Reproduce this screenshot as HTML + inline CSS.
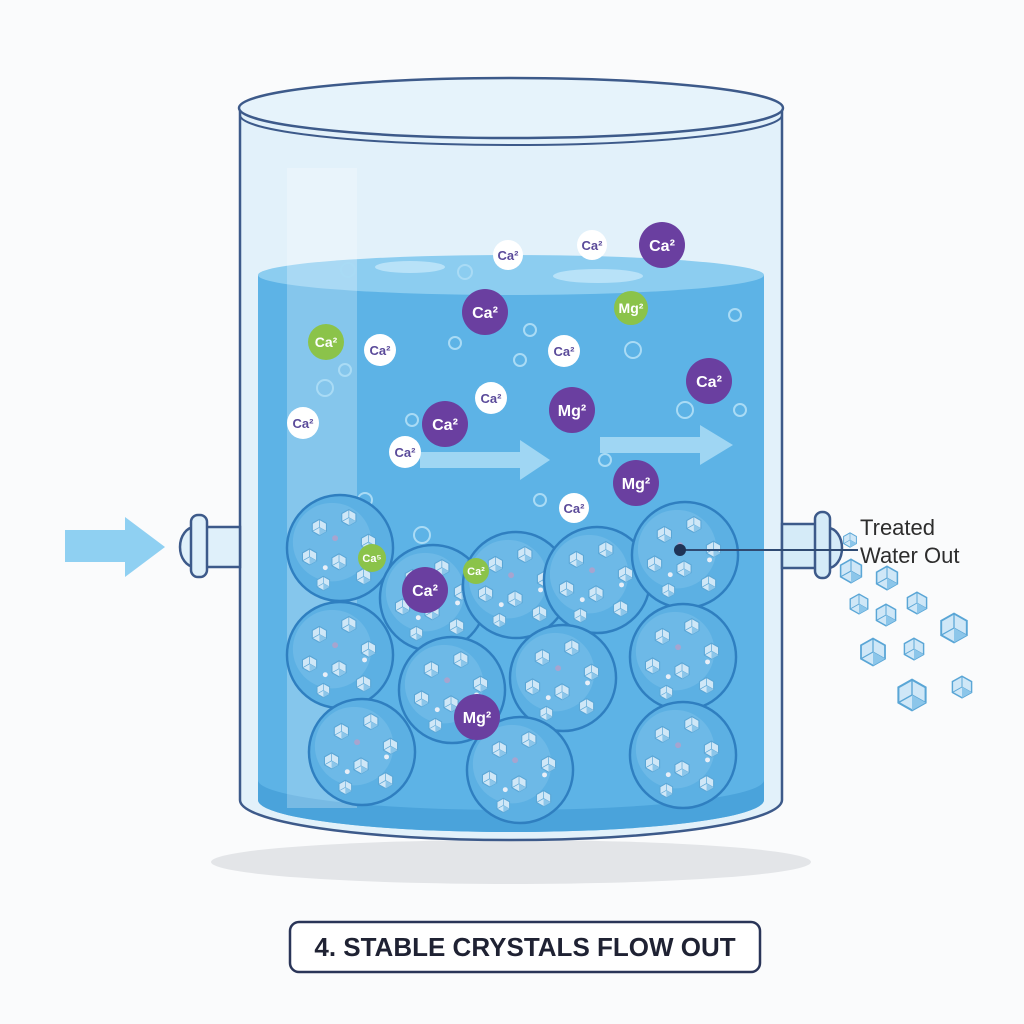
<!DOCTYPE html>
<html><head><meta charset="utf-8"><style>
html,body{margin:0;padding:0;background:#fafbfc;}
svg{display:block}
text{font-family:"Liberation Sans",sans-serif;font-weight:bold}
</style></head><body>
<svg width="1024" height="1024" viewBox="0 0 1024 1024">
<defs>
<symbol id="hex" viewBox="-10 -10 20 20"><polygon points="0,-9 8,-4.5 8,4.5 0,9 -8,4.5 -8,-4.5" fill="#cfe7f7" stroke="#5aa6d6" stroke-width="1.2"/><path d="M0,-9L0,0L8,4.5M0,0L-8,4.5" stroke="#5aa6d6" stroke-width="0.8" fill="none"/><polygon points="0,0 8,4.5 0,9" fill="#8cc6ea"/></symbol>
<symbol id="bead" viewBox="-56 -56 112 112"><circle r="54" fill="#5cb0e3" stroke="#2f7fc0" stroke-width="2.5"/><circle r="40" cx="-8" cy="-6" fill="#78c0ea" opacity="0.6"/>
<use href="#hex" x="-30" y="-30" width="18" height="18"/><use href="#hex" x="0" y="-40" width="18" height="18"/><use href="#hex" x="20" y="-15" width="18" height="18"/><use href="#hex" x="-40" y="0" width="18" height="18"/><use href="#hex" x="-10" y="5" width="18" height="18"/><use href="#hex" x="15" y="20" width="18" height="18"/><use href="#hex" x="-25" y="28" width="16" height="16"/>
<circle cx="-5" cy="-10" r="3" fill="#a7a4cf"/><circle cx="25" cy="5" r="2.5" fill="#e8eef7"/><circle cx="-15" cy="20" r="2.5" fill="#e8eef7"/></symbol>
</defs>
<ellipse cx="511" cy="862" rx="300" ry="22" fill="#e3e5e8"/>
<!-- tank glass -->
<path d="M240,108 L240,800 A271,40 0 0 0 782,800 L782,108 Z" fill="#e2f1fa" stroke="#3d5a8a" stroke-width="2.5"/>
<!-- water -->
<path d="M258,275 L258,800 A253,32 0 0 0 764,800 L764,275 Z" fill="#5db3e6"/>
<ellipse cx="511" cy="275" rx="253" ry="20" fill="#8ccdf0"/>
<path d="M258,780 L258,800 A253,32 0 0 0 764,800 L764,780 A253,30 0 0 1 258,780Z" fill="#4aa3db"/>
<rect x="287" y="168" width="70" height="640" fill="#ffffff" opacity="0.25"/>
<ellipse cx="511" cy="108" rx="272" ry="30" fill="#e6f3fb" stroke="#3d5a8a" stroke-width="2.5"/>
<path d="M240,115 A271,30 0 0 0 782,115" fill="none" stroke="#3d5a8a" stroke-width="2"/>
<!-- bubbles -->
<g fill="none" stroke="#a9dbf5" stroke-width="2">
<circle cx="348" cy="270" r="7"/><circle cx="465" cy="272" r="7"/><circle cx="325" cy="388" r="8"/><circle cx="345" cy="370" r="6"/><circle cx="455" cy="343" r="6"/><circle cx="633" cy="350" r="8"/><circle cx="530" cy="330" r="6"/><circle cx="685" cy="410" r="8"/><circle cx="740" cy="410" r="6"/><circle cx="412" cy="420" r="6"/><circle cx="422" cy="535" r="8"/><circle cx="540" cy="500" r="6"/><circle cx="605" cy="460" r="6"/><circle cx="735" cy="315" r="6"/><circle cx="365" cy="500" r="7"/><circle cx="520" cy="360" r="6"/>
</g>
<ellipse cx="410" cy="267" rx="35" ry="6" fill="#b8e2f8"/><ellipse cx="598" cy="276" rx="45" ry="7" fill="#b8e2f8"/>
<!-- flow arrows -->
<polygon points="420,452 520,452 520,440 550,460 520,480 520,468 420,468" fill="#9fd6f3"/>
<polygon points="600,437 700,437 700,425 733,445 700,465 700,453 600,453" fill="#9fd6f3"/>
<!-- beads -->
<use href="#bead" x="285" y="493" width="110" height="110"/>
<use href="#bead" x="378" y="543" width="110" height="110"/>
<use href="#bead" x="461" y="530" width="110" height="110"/>
<use href="#bead" x="542" y="525" width="110" height="110"/>
<use href="#bead" x="630" y="500" width="110" height="110"/>
<use href="#bead" x="285" y="600" width="110" height="110"/>
<use href="#bead" x="397" y="635" width="110" height="110"/>
<use href="#bead" x="508" y="623" width="110" height="110"/>
<use href="#bead" x="628" y="602" width="110" height="110"/>
<use href="#bead" x="307" y="697" width="110" height="110"/>
<use href="#bead" x="465" y="715" width="110" height="110"/>
<use href="#bead" x="628" y="700" width="110" height="110"/>
<!-- ions -->
<g font-size="16" text-anchor="middle">
<g fill="#6a3fa0"><circle cx="662" cy="245" r="23"/><circle cx="485" cy="312" r="23"/><circle cx="709" cy="381" r="23"/><circle cx="445" cy="424" r="23"/><circle cx="572" cy="410" r="23"/><circle cx="636" cy="483" r="23"/><circle cx="425" cy="590" r="23"/><circle cx="477" cy="717" r="23"/></g>
<g fill="#fff"><text x="662" y="251">Ca²</text><text x="485" y="318">Ca²</text><text x="709" y="387">Ca²</text><text x="445" y="430">Ca²</text><text x="572" y="416">Mg²</text><text x="636" y="489">Mg²</text><text x="425" y="596">Ca²</text><text x="477" y="723">Mg²</text></g>
<g fill="#8bc34a"><circle cx="326" cy="342" r="18"/><circle cx="631" cy="308" r="17"/><circle cx="372" cy="558" r="14"/><circle cx="476" cy="571" r="13"/></g>
<g fill="#fff" font-size="14"><text x="326" y="347">Ca²</text><text x="631" y="313">Mg²</text><text x="372" y="562" font-size="11">Ca⁵</text><text x="476" y="575" font-size="11">Ca²</text></g>
<g fill="#fff"><circle cx="508" cy="255" r="15"/><circle cx="592" cy="245" r="15"/><circle cx="380" cy="350" r="16"/><circle cx="564" cy="351" r="16"/><circle cx="491" cy="398" r="16"/><circle cx="303" cy="423" r="16"/><circle cx="405" cy="452" r="16"/><circle cx="574" cy="508" r="15"/></g>
<g fill="#5a4a9a" font-size="13"><text x="508" y="260">Ca²</text><text x="592" y="250">Ca²</text><text x="380" y="355">Ca²</text><text x="564" y="356">Ca²</text><text x="491" y="403">Ca²</text><text x="303" y="428">Ca²</text><text x="405" y="457">Ca²</text><text x="574" y="513">Ca²</text></g>
</g>
<!-- inlet -->
<polygon points="65,530 125,530 125,517 165,547 125,577 125,562 65,562" fill="#8fd0f2"/>
<path d="M195,527 A15,20 0 0 0 195,567" fill="#dff0fa" stroke="#3d5a8a" stroke-width="2.5"/>
<rect x="200" y="527" width="40" height="40" fill="#dff0fa" stroke="#3d5a8a" stroke-width="2.5"/>
<rect x="191" y="515" width="16" height="62" rx="7" fill="#dff0fa" stroke="#3d5a8a" stroke-width="2.5"/>
<!-- outlet -->
<rect x="782" y="524" width="38" height="44" fill="#d5ebf8" stroke="#3d5a8a" stroke-width="2.5"/>
<path d="M828,528 A14,20 0 0 1 828,568" fill="#d5ebf8" stroke="#3d5a8a" stroke-width="2.5"/>
<rect x="815" y="512" width="15" height="66" rx="7" fill="#d5ebf8" stroke="#3d5a8a" stroke-width="2.5"/>
<line x1="680" y1="550" x2="858" y2="550" stroke="#2f4a72" stroke-width="2"/>
<circle cx="680" cy="550" r="6" fill="#1f3457"/>
<text x="860" y="535" font-size="22" font-weight="normal" fill="#2d2d2d" style="font-weight:normal">Treated</text>
<text x="860" y="563" font-size="22" fill="#2d2d2d" style="font-weight:normal">Water Out</text>
<!-- crystals -->
<use href="#hex" x="838" y="558" width="26" height="26"/><use href="#hex" x="874" y="565" width="26" height="26"/>
<use href="#hex" x="848" y="593" width="22" height="22"/><use href="#hex" x="905" y="591" width="24" height="24"/>
<use href="#hex" x="874" y="603" width="24" height="24"/><use href="#hex" x="938" y="612" width="32" height="32"/>
<use href="#hex" x="858" y="637" width="30" height="30"/><use href="#hex" x="902" y="637" width="24" height="24"/>
<use href="#hex" x="895" y="678" width="34" height="34"/><use href="#hex" x="950" y="675" width="24" height="24"/>
<use href="#hex" x="842" y="532" width="16" height="16"/>
<!-- label -->
<rect x="290" y="922" width="470" height="50" rx="9" fill="#fff" stroke="#2a3558" stroke-width="2.5"/>
<text x="525" y="956" font-size="26" text-anchor="middle" fill="#1f2233">4. STABLE CRYSTALS FLOW OUT</text>
</svg>
</body></html>
